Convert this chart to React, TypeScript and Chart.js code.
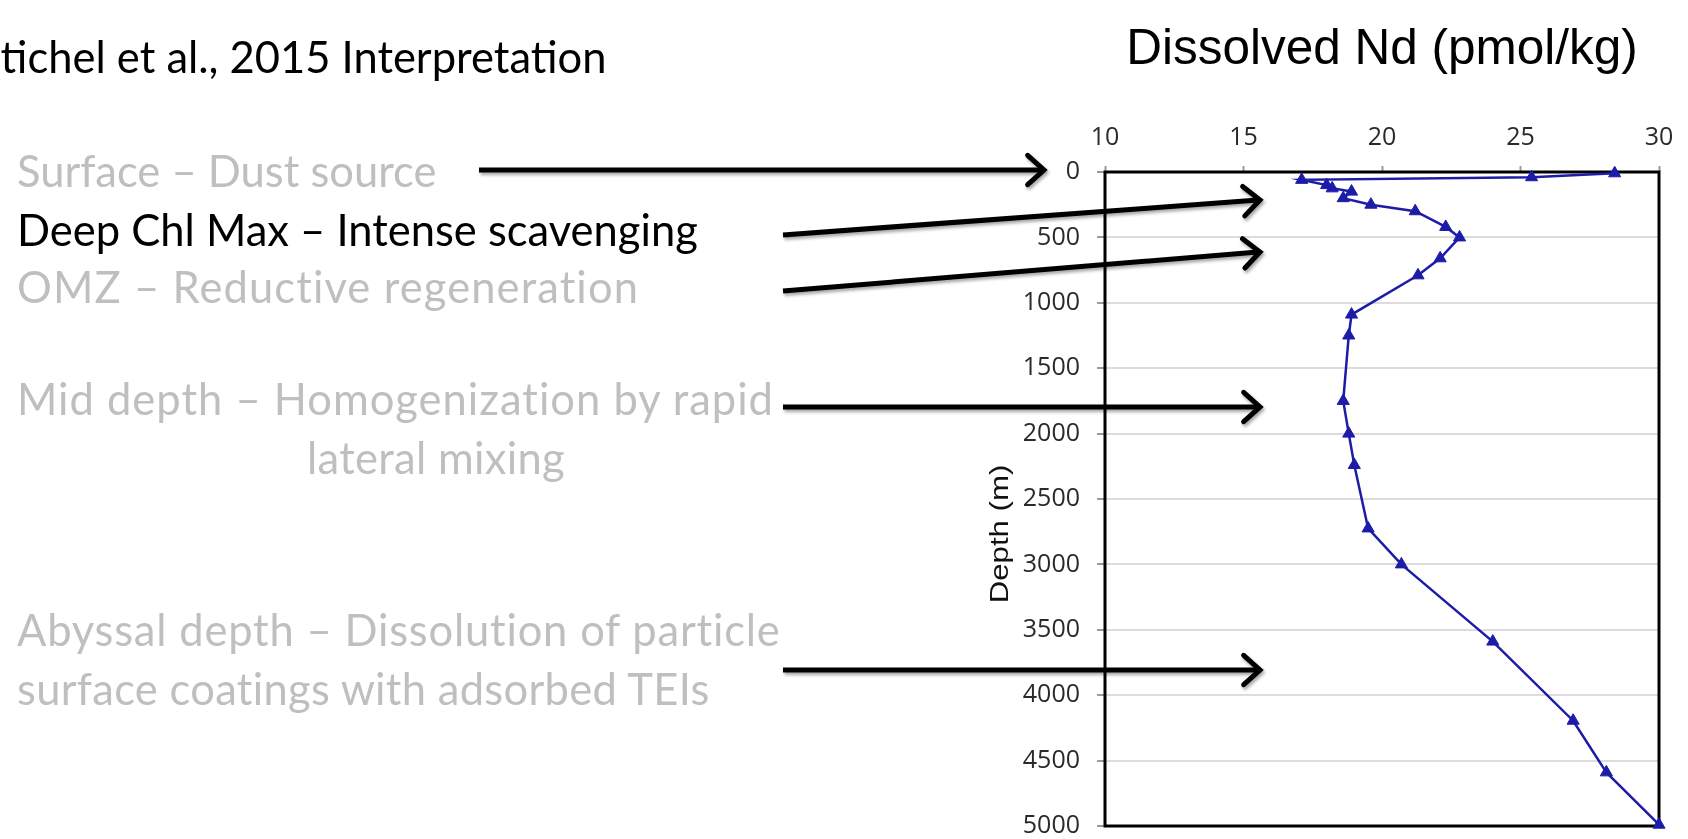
import React, { useEffect, useRef } from 'react';
import { Chart, registerables } from 'chart.js';

Chart.register(...registerables);

// Dissolved Nd profile (pmol/kg) against depth (m)
const depths = [10, 40, 60, 100, 125, 150, 200, 250, 300, 420, 500, 660, 790, 1090, 1250, 1750, 2000, 2240, 2725, 3000, 3590, 4195, 4590, 4990];
const ndValues = [28.4, 25.4, 17.1, 18.0, 18.2, 18.9, 18.6, 19.6, 21.2, 22.3, 22.8, 22.1, 21.3, 18.9, 18.8, 18.6, 18.8, 19.0, 19.5, 20.7, 24.0, 26.9, 28.1, 30.0];

const ndRange = [10, 30];
const ndStep = 5;
const depthRange = [0, 5000];
const depthStep = 500;

const xAxisTitle = 'Dissolved Nd (pmol/kg)';
const yAxisTitle = 'Depth (m)';

const LINE_BLUE = '#1c1ca8';
const W = 1688;
const H = 839;

// Interpretation labels on the left (baseline y of each line, letter spacing)
const headline = 'Stichel et al., 2015 Interpretation';
type Note = { lines: string[]; color: string; baselines: number[]; left: number[]; spacing: number[] };
const notes: Note[] = [
  { lines: ['Surface – Dust source'], color: '#bfbfbf', baselines: [187], left: [17], spacing: [0] },
  { lines: ['Deep Chl Max – Intense scavenging'], color: '#000000', baselines: [246], left: [17], spacing: [0] },
  { lines: ['OMZ – Reductive regeneration'], color: '#bfbfbf', baselines: [303], left: [17], spacing: [1.1] },
  { lines: ['Mid depth – Homogenization by rapid', 'lateral mixing'], color: '#bfbfbf', baselines: [415, 474], left: [17, 307], spacing: [1.0, 0.3] },
  { lines: ['Abyssal depth – Dissolution of particle', 'surface coatings with adsorbed TEIs'], color: '#bfbfbf', baselines: [646, 705], left: [17, 17], spacing: [0.8, 0.3] },
];

// Arrows from each label towards the profile
const arrows: [number, number, number, number][] = [
  [479, 170, 1044, 170],
  [783, 235, 1260, 200],
  [783, 291, 1260, 252],
  [783, 407, 1260, 407],
  [783, 670, 1260, 670],
];

function chevron(x1: number, y1: number, x2: number, y2: number): string {
  const a = Math.atan2(y2 - y1, x2 - x1);
  const len = 22;
  const spread = (42 * Math.PI) / 180;
  const p1 = [x2 - len * Math.cos(a - spread), y2 - len * Math.sin(a - spread)];
  const p2 = [x2 - len * Math.cos(a + spread), y2 - len * Math.sin(a + spread)];
  return `M${p1[0]},${p1[1]} L${x2},${y2} L${p2[0]},${p2[1]}`;
}

const framePlugin = {
  id: 'plotFrame',
  beforeDatasetsDraw(chart: any) {
    const { ctx, chartArea } = chart;
    ctx.save();
    ctx.strokeStyle = '#000';
    ctx.lineWidth = 3;
    ctx.strokeRect(chartArea.left, chartArea.top, chartArea.right - chartArea.left, chartArea.bottom - chartArea.top);
    ctx.restore();
  },
};

const NOTE_FONT = 43.5;
const LATO_ASCENT = 0.987;

export default function App() {
  const canvasRef = useRef<HTMLCanvasElement | null>(null);

  useEffect(() => {
    if (!canvasRef.current) return;
    const points = depths.map((d, i) => ({ x: ndValues[i], y: d }));
    const tickFont = { family: '"Open Sans"', size: 25 };
    const chart = new Chart(canvasRef.current, {
      type: 'line',
      data: {
        datasets: [
          {
            data: points,
            borderColor: LINE_BLUE,
            backgroundColor: LINE_BLUE,
            borderWidth: 2.5,
            pointStyle: 'triangle',
            pointRadius: 7,
            pointBorderWidth: 1,
            tension: 0,
            clip: false as any,
          },
        ],
      },
      options: {
        animation: false,
        responsive: false,
        maintainAspectRatio: false,
        layout: { padding: { left: 1005, right: 29, top: 0, bottom: 13 } },
        plugins: { legend: { display: false }, tooltip: { enabled: false }, title: { display: false } },
        scales: {
          x: {
            type: 'linear',
            position: 'top',
            min: ndRange[0],
            max: ndRange[1],
            afterFit: (s: any) => {
              s.height = 172;
              s.paddingLeft = 0;
              s.paddingRight = 0;
            },
            ticks: { stepSize: ndStep, font: tickFont, color: '#2a2a2a', padding: 13 },
            grid: { drawOnChartArea: false, tickLength: 6, tickColor: '#9a9a9a', tickWidth: 2 },
            border: { display: false },
            title: {
              display: true,
              text: xAxisTitle,
              font: { family: 'Liberation Sans', size: 49.5 },
              color: '#000',
              padding: { top: 21, bottom: 0 },
            },
          },
          y: {
            type: 'linear',
            reverse: true,
            min: depthRange[0],
            max: depthRange[1],
            afterFit: (s: any) => {
              s.width = 100;
              s.paddingTop = 0;
              s.paddingBottom = 0;
            },
            ticks: {
              stepSize: depthStep,
              font: tickFont,
              color: '#2a2a2a',
              padding: 17,
              callback: (v: any) => String(v),
            },
            grid: { color: '#dcdcdc', lineWidth: 2, tickLength: 8, tickColor: '#9a9a9a', tickWidth: 2 },
            border: { display: false },
            title: { display: false },
          },
        },
      },
      plugins: [framePlugin],
    });
    return () => chart.destroy();
  }, []);

  const textFont = 'Lato, "Noto Sans", sans-serif';
  const noteStyle = (left: number, baseline: number, color: string, spacing = 0): React.CSSProperties => ({
    position: 'absolute',
    left,
    top: baseline - LATO_ASCENT * NOTE_FONT,
    fontFamily: textFont,
    fontSize: NOTE_FONT,
    lineHeight: 1.2,
    letterSpacing: spacing,
    color,
    whiteSpace: 'nowrap',
  });

  return (
    <div style={{ position: 'fixed', left: 0, top: 0, width: W, height: H, background: '#fff', overflow: 'hidden' }}>
      <canvas ref={canvasRef} width={W} height={H} style={{ position: 'absolute', left: 0, top: 0, width: W, height: H }} />
      <div style={noteStyle(-22, 73, '#000')}>{headline}</div>
      {notes.map((n, i) =>
        n.lines.map((line, j) => (
          <div key={`${i}-${j}`} style={noteStyle(n.left[j], n.baselines[j], n.color, n.spacing[j])}>
            {line}
          </div>
        ))
      )}
      <div style={{ position: 'absolute', left: 999, top: 534, width: 0, height: 0 }}>
        <div
          style={{
            position: 'absolute',
            left: 0,
            top: 0,
            transform: 'translate(-50%, -50%) rotate(-90deg) scaleX(1.2)',
            fontFamily: '"Liberation Sans", Arial, sans-serif',
            fontSize: 26,
            lineHeight: 1,
            color: '#111',
            whiteSpace: 'nowrap',
          }}
        >
          {yAxisTitle}
        </div>
      </div>
      <svg width={W} height={H} style={{ position: 'absolute', left: 0, top: 0, pointerEvents: 'none' }}>
        <defs>
          <filter id="arrowShadow" x="-10%" y="-50%" width="120%" height="200%">
            <feDropShadow dx="1.5" dy="2.5" stdDeviation="1.8" floodColor="#000" floodOpacity="0.35" />
          </filter>
        </defs>
        {arrows.map(([x1, y1, x2, y2], i) => (
          <g key={i} filter="url(#arrowShadow)" stroke="#000" strokeWidth={5} fill="none" strokeLinejoin="miter">
            <line x1={x1} y1={y1} x2={x2 - 2} y2={y2} strokeLinecap="butt" />
            <path d={chevron(x1, y1, x2, y2)} strokeLinecap="round" />
          </g>
        ))}
      </svg>
    </div>
  );
}
